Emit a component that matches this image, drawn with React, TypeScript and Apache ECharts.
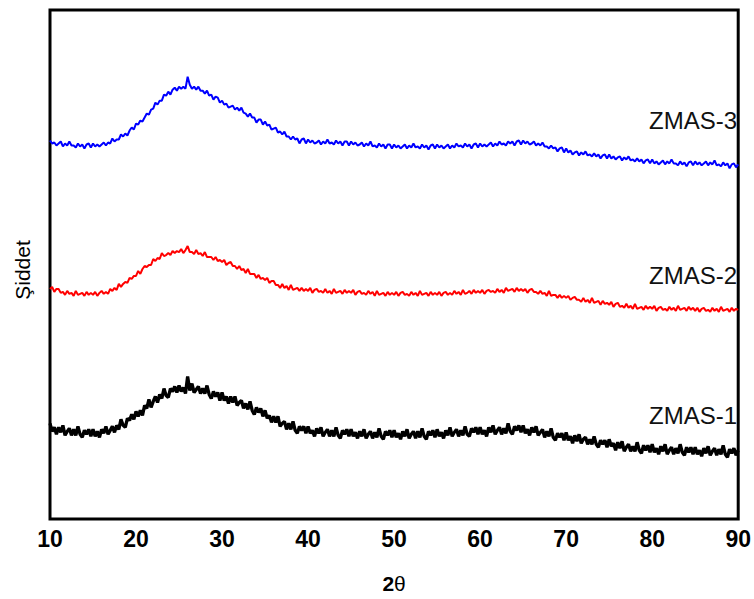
import React, { useEffect, useRef } from "react";
import * as echarts from "echarts";

// 2θ sampling (degrees), every 0.25° from 10 to 90
const angleStart = 10;
const angleStep = 0.25;

// Intensities (arbitrary units), every 0.25°
const zmas3: number[] = [
  380, 377, 378, 375, 377, 379, 374, 377, 375, 379,
  375, 375, 373, 377, 374, 376, 372, 376, 377, 373,
  377, 374, 376, 374, 376, 378, 375, 378, 377, 382,
  379, 381, 381, 386, 384, 387, 385, 390, 393, 391,
  397, 396, 400, 399, 403, 407, 406, 411, 412, 418,
  416, 420, 420, 426, 425, 429, 426, 431, 433, 430,
  434, 432, 434, 432, 444, 436, 432, 434, 431, 434,
  430, 430, 427, 430, 425, 426, 421, 424, 423, 418,
  420, 416, 417, 413, 414, 415, 411, 413, 410, 413,
  408, 407, 404, 407, 403, 403, 398, 401, 401, 396,
  399, 395, 396, 391, 392, 393, 388, 389, 386, 389,
  384, 384, 381, 384, 381, 382, 377, 381, 382, 377,
  381, 378, 380, 377, 378, 380, 376, 379, 377, 381,
  377, 378, 376, 380, 377, 379, 375, 379, 379, 375,
  379, 376, 378, 375, 376, 378, 374, 377, 375, 379,
  374, 375, 373, 377, 374, 376, 372, 376, 376, 372,
  376, 373, 375, 372, 374, 376, 372, 375, 373, 377,
  373, 374, 372, 376, 373, 375, 371, 375, 376, 372,
  376, 373, 375, 372, 374, 376, 372, 375, 373, 377,
  374, 375, 373, 377, 374, 376, 372, 376, 377, 373,
  377, 374, 376, 374, 376, 378, 374, 377, 375, 379,
  376, 377, 375, 379, 377, 379, 375, 379, 380, 376,
  380, 377, 379, 376, 377, 379, 375, 377, 375, 378,
  374, 374, 372, 375, 372, 373, 369, 372, 373, 368,
  372, 368, 370, 366, 368, 369, 365, 368, 366, 369,
  365, 366, 364, 367, 364, 366, 362, 365, 366, 362,
  366, 362, 364, 361, 363, 364, 360, 363, 361, 364,
  360, 361, 359, 362, 359, 361, 357, 360, 361, 357,
  361, 357, 359, 356, 358, 360, 356, 359, 357, 361,
  357, 357, 355, 359, 356, 358, 354, 358, 359, 355,
  359, 356, 358, 355, 357, 359, 355, 358, 356, 360,
  355, 356, 354, 358, 355, 357, 352, 356, 357, 353,
  356,
];

const zmas2: number[] = [
  231, 233, 228, 231, 231, 227, 228, 225, 229, 226,
  227, 224, 229, 225, 226, 227, 224, 228, 225, 227,
  225, 228, 224, 227, 229, 226, 228, 226, 231, 229,
  232, 230, 236, 233, 236, 238, 237, 242, 241, 244,
  244, 249, 246, 251, 254, 253, 255, 255, 261, 259,
  262, 261, 267, 264, 265, 267, 265, 269, 267, 269,
  268, 271, 267, 270, 274, 268, 268, 266, 270, 266,
  267, 264, 268, 263, 263, 263, 260, 263, 259, 260,
  258, 260, 255, 257, 258, 254, 254, 251, 254, 250,
  251, 247, 251, 246, 246, 246, 242, 245, 241, 242,
  240, 242, 237, 239, 239, 235, 235, 232, 236, 232,
  234, 230, 235, 230, 231, 232, 229, 232, 229, 231,
  229, 232, 227, 230, 231, 228, 229, 227, 231, 227,
  229, 226, 231, 227, 228, 229, 226, 230, 227, 229,
  227, 230, 225, 228, 229, 226, 227, 225, 229, 226,
  228, 224, 229, 225, 226, 227, 224, 228, 225, 227,
  225, 228, 224, 227, 228, 225, 226, 224, 228, 225,
  227, 224, 229, 225, 226, 227, 224, 228, 225, 227,
  225, 228, 224, 227, 228, 225, 227, 225, 229, 226,
  228, 225, 230, 226, 227, 229, 226, 230, 227, 229,
  227, 230, 226, 229, 230, 228, 229, 227, 231, 228,
  230, 227, 232, 229, 230, 231, 228, 232, 229, 231,
  229, 231, 227, 230, 231, 228, 228, 226, 229, 226,
  227, 224, 229, 224, 225, 225, 222, 225, 222, 224,
  222, 224, 220, 222, 223, 220, 220, 218, 222, 218,
  220, 217, 222, 217, 218, 219, 215, 219, 216, 217,
  215, 218, 213, 216, 217, 213, 214, 212, 216, 212,
  214, 211, 216, 211, 212, 213, 210, 214, 211, 213,
  211, 214, 209, 212, 213, 210, 211, 209, 213, 210,
  212, 209, 214, 210, 211, 212, 209, 213, 210, 212,
  209, 212, 208, 211, 212, 209, 210, 208, 212, 209,
  211, 208, 213, 209, 210, 211, 208, 212, 209, 211,
  210,
];

const zmas1: number[] = [
  96, 88, 92, 85, 92, 87, 94, 84, 88, 91,
  84, 90, 84, 93, 85, 82, 89, 85, 90, 83,
  90, 83, 88, 82, 90, 86, 93, 85, 89, 93,
  87, 94, 90, 100, 94, 92, 101, 99, 105, 100,
  108, 103, 109, 104, 114, 111, 120, 112, 118, 123,
  117, 125, 121, 131, 124, 122, 131, 128, 133, 127,
  134, 128, 132, 126, 143, 129, 136, 127, 130, 133,
  126, 131, 126, 134, 125, 121, 128, 123, 127, 119,
  127, 119, 123, 116, 123, 117, 123, 114, 117, 119,
  111, 116, 110, 118, 109, 105, 112, 107, 111, 103,
  109, 101, 104, 97, 103, 97, 103, 93, 96, 98,
  90, 96, 90, 98, 89, 86, 93, 89, 93, 86,
  93, 86, 89, 83, 91, 86, 92, 83, 87, 90,
  83, 89, 83, 92, 84, 81, 89, 85, 90, 83,
  90, 83, 87, 81, 88, 83, 90, 81, 85, 88,
  81, 87, 82, 91, 83, 80, 88, 84, 89, 82,
  89, 82, 86, 80, 88, 83, 90, 81, 85, 88,
  81, 88, 82, 91, 83, 80, 88, 84, 89, 82,
  90, 83, 87, 81, 89, 84, 92, 83, 87, 90,
  83, 89, 84, 93, 85, 83, 91, 87, 92, 85,
  92, 85, 89, 83, 92, 87, 94, 85, 89, 92,
  85, 91, 86, 96, 88, 85, 93, 89, 94, 87,
  94, 86, 90, 84, 92, 87, 93, 84, 87, 90,
  82, 88, 83, 91, 82, 79, 86, 82, 86, 79,
  87, 79, 83, 76, 84, 78, 85, 76, 80, 82,
  75, 80, 75, 83, 75, 72, 79, 75, 79, 72,
  80, 73, 76, 69, 77, 71, 78, 68, 72, 75,
  68, 73, 68, 77, 69, 66, 74, 69, 74, 67,
  75, 67, 71, 65, 73, 68, 75, 65, 69, 72,
  65, 71, 66, 75, 67, 64, 72, 67, 72, 65,
  72, 65, 69, 63, 71, 66, 73, 64, 68, 71,
  64, 70, 65, 74, 65, 62, 70, 66, 71, 64,
  69,
];

const seriesNames = ["ZMAS-3", "ZMAS-2", "ZMAS-1"];
const seriesColors = ["#0000ff", "#ff0000", "#000000"];
const xTicks = [10, 20, 30, 40, 50, 60, 70, 80, 90];

function toPairs(values: number[]): [number, number][] {
  return values.map((v, i) => [angleStart + i * angleStep, v]);
}

export default function App() {
  const ref = useRef<HTMLDivElement>(null);

  useEffect(() => {
    if (!ref.current) return;
    const chart = echarts.init(ref.current, null, { renderer: "svg" });
    const datasets = [zmas3, zmas2, zmas1];
    const widths = [2, 2, 3.3];
    const labelY = [122, 277, 417];

    chart.setOption({
      animation: false,
      backgroundColor: "#ffffff",
      grid: {
        left: 50,
        right: 14,
        top: 10,
        bottom: 78,
        show: true,
        borderColor: "#000000",
        borderWidth: 3,
        backgroundColor: "transparent",
      },
      xAxis: {
        type: "value",
        min: 10,
        max: 90,
        interval: 10,
        axisLine: { show: false },
        axisTick: { show: false },
        splitLine: { show: false },
        axisLabel: {
          margin: 8,
          color: "#000000",
          fontSize: 23,
          fontWeight: "bold",
          fontFamily: "'Liberation Sans Narrow', 'Liberation Sans', Arial, sans-serif",
          formatter: (v: number) => (xTicks.includes(v) ? String(v) : ""),
        },
        name: "{b|2}{n|θ}",
        nameLocation: "middle",
        nameGap: 54,
        nameTextStyle: {
          rich: {
            b: {
              fontSize: 21,
              fontWeight: "bold",
              color: "#000000",
              fontFamily: "'Liberation Sans', Arial, sans-serif",
            },
            n: {
              fontSize: 21,
              color: "#000000",
              fontFamily: "'Liberation Sans', Arial, sans-serif",
            },
          },
        },
      },
      yAxis: {
        type: "value",
        min: 0,
        max: 511,
        axisLine: { show: false },
        axisTick: { show: false },
        axisLabel: { show: false },
        splitLine: { show: false },
      },
      series: datasets.map((d, i) => ({
        name: seriesNames[i],
        type: "line",
        data: toPairs(d),
        showSymbol: false,
        symbol: "none",
        clip: true,
        lineStyle: { color: seriesColors[i], width: widths[i] },
        z: 3 - i,
      })),
      graphic: [
        ...seriesNames.map((name, i) => ({
          type: "text",
          right: 754 - 737,
          top: labelY[i] - 14,
          style: {
            text: name,
            fill: "#111111",
            font: "24px 'Liberation Sans', Arial, sans-serif",
          },
        })),
        {
          type: "text",
          x: 22,
          y: 270,
          rotation: Math.PI / 2,
          style: {
            text: "Şiddet",
            fill: "#000000",
            font: "21px 'Liberation Sans', Arial, sans-serif",
            align: "center",
            verticalAlign: "middle",
          },
        },
      ],
    });

    return () => chart.dispose();
  }, []);

  return (
    <div
      ref={ref}
      style={{ position: "fixed", left: 0, top: 0, width: 754, height: 599 }}
    />
  );
}
